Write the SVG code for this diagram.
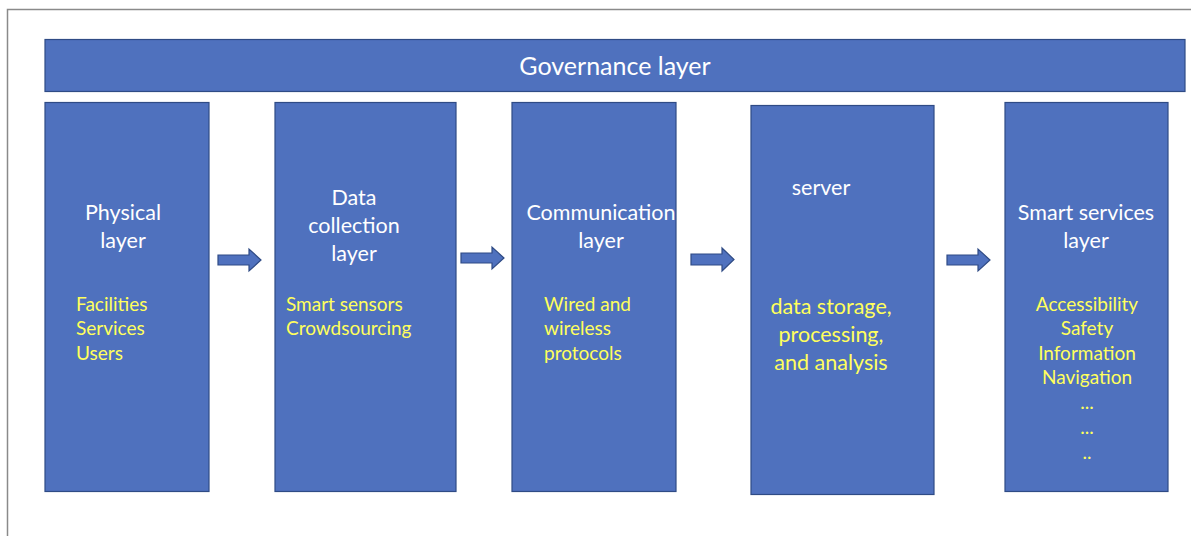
<svg xmlns="http://www.w3.org/2000/svg" width="1191" height="536" viewBox="0 0 1191 536">
<style>
.box{fill:#4F71BE;stroke:#2F4B85;stroke-width:1.2}
.arr{fill:#4F71BE;stroke:#2F4B85;stroke-width:1.2}
.t{font-family:Lato,"Open Sans",sans-serif;fill:#FFFFFF;font-size:21.5px}
.y{font-family:Lato,"Open Sans",sans-serif;fill:#FFFF5C;font-size:19px}
.ys{font-family:Lato,"Open Sans",sans-serif;fill:#FFFF5C;font-size:21.5px}
</style>
<rect x="0" y="0" width="1191" height="536" fill="#FFFFFF"/>
<path d="M7.5 536 V9.5 H1191" fill="none" stroke="#8A8A8A" stroke-width="1.5"/>
<g id="governance">
<rect class="box" x="45" y="39.5" width="1140" height="52"/>
<text class="t" x="615" y="74.5" text-anchor="middle" style="font-size:25px">Governance layer</text>
</g>
<g id="physical">
<rect class="box" x="45" y="102.5" width="164" height="389"/>
<text class="t" x="123" y="220" text-anchor="middle">Physical</text>
<text class="t" x="123" y="248" text-anchor="middle">layer</text>
<text class="y" x="76" y="310.5">Facilities</text>
<text class="y" x="76" y="335">Services</text>
<text class="y" x="76" y="359.5">Users</text>
</g>
<g id="datacollection">
<rect class="box" x="275" y="102.5" width="181" height="389"/>
<text class="t" x="354" y="205" text-anchor="middle">Data</text>
<text class="t" x="354" y="233" text-anchor="middle">collection</text>
<text class="t" x="354" y="261" text-anchor="middle">layer</text>
<text class="y" x="286" y="310.5">Smart sensors</text>
<text class="y" x="286" y="335">Crowdsourcing</text>
</g>
<g id="communication">
<rect class="box" x="512" y="102.5" width="164" height="389"/>
<text class="t" x="601" y="220" text-anchor="middle">Communication</text>
<text class="t" x="601" y="248" text-anchor="middle">layer</text>
<text class="y" x="544" y="310.5">Wired and</text>
<text class="y" x="544" y="335">wireless</text>
<text class="y" x="544" y="359.5">protocols</text>
</g>
<g id="server">
<rect class="box" x="751" y="105.5" width="183" height="389"/>
<text class="t" x="821" y="195" text-anchor="middle">server</text>
<text class="ys" x="831" y="313.5" text-anchor="middle">data storage,</text>
<text class="ys" x="831" y="341.5" text-anchor="middle">processing,</text>
<text class="ys" x="831" y="369.5" text-anchor="middle">and analysis</text>
</g>
<g id="smartservices">
<rect class="box" x="1005" y="102.5" width="163" height="389"/>
<text class="t" x="1086" y="220" text-anchor="middle">Smart services</text>
<text class="t" x="1086" y="248" text-anchor="middle">layer</text>
<text class="y" x="1087" y="310.5" text-anchor="middle">Accessibility</text>
<text class="y" x="1087" y="335" text-anchor="middle">Safety</text>
<text class="y" x="1087" y="359.5" text-anchor="middle">Information</text>
<text class="y" x="1087" y="384" text-anchor="middle">Navigation</text>
<text class="y" x="1087" y="409" text-anchor="middle">...</text>
<text class="y" x="1087" y="434" text-anchor="middle">...</text>
<text class="y" x="1087" y="459" text-anchor="middle">..</text>
</g>
<g id="connectors">
<path class="arr" d="M218 255 H249 V249 L261 260 L249 271 V265 H218 Z"/>
<path class="arr" d="M461 253 H492 V247 L504 258 L492 269 V263 H461 Z"/>
<path class="arr" d="M691 254 H722 V248 L734 259.5 L722 271 V265 H691 Z"/>
<path class="arr" d="M947 255 H978 V249 L990 260 L978 271 V265 H947 Z"/>
</g>
</svg>
